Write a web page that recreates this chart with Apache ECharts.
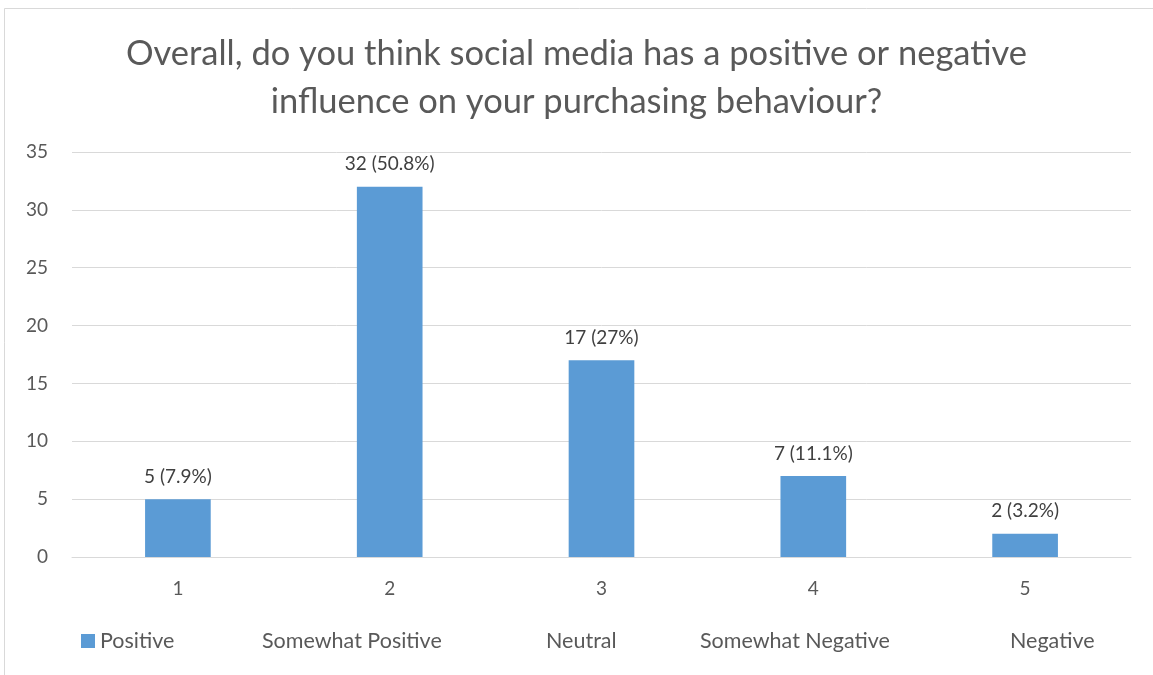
<!DOCTYPE html>
<html>
<head>
<meta charset="utf-8">
<script src="https://cdn.jsdelivr.net/npm/echarts@6/dist/echarts.min.js"></script>
<style>html,body{margin:0;padding:0;background:#fff}#c{width:1153px;height:675px}</style>
</head>
<body>
<div id="c"></div>
<script>
const titleText = 'Overall, do you think social media has a positive or negative\ninfluence on your purchasing behaviour?';
const categories = ['1', '2', '3', '4', '5'];
const values = [5, 32, 17, 7, 2];
const percents = ['7.9%', '50.8%', '27%', '11.1%', '3.2%'];
const seriesName = 'Positive';
const extraLegendTexts = ['Somewhat Positive', 'Neutral', 'Somewhat Negative', 'Negative'];
const extraLegendX = [262, 546, 700, 1010];
const yTicks = {min: 0, max: 35, interval: 5};

const FONT = 'Lato';
const chart = echarts.init(document.getElementById('c'), null, {renderer: 'canvas'});
chart.setOption({
  animation: false,
  backgroundColor: '#fff',
  title: {
    text: titleText,
    left: 'center',
    top: 25,
    textStyle: {fontFamily: FONT, fontSize: 34.5, fontWeight: 'normal', color: '#595959', lineHeight: 48}
  },
  legend: {
    data: [seriesName],
    left: 81,
    top: 630,
    padding: 0,
    itemWidth: 14,
    itemHeight: 14,
    icon: 'rect',
    textStyle: {fontFamily: FONT, fontSize: 21.5, color: '#595959', lineHeight: 22}
  },
  graphic: [
    {type: 'rect', shape: {x: 4.5, y: 8.5, width: 1300, height: 800}, style: {fill: 'none', stroke: '#d9d9d9', lineWidth: 1}, silent: true, z: -1}
  ].concat(extraLegendTexts.map((t, i) => ({
    type: 'text', x: extraLegendX[i], y: 641,
    style: {text: t, fontFamily: FONT, fontSize: 21.5, fill: '#595959', verticalAlign: 'middle'}
  }))),
  grid: {left: 72, right: 22, top: 152, bottom: 118},
  xAxis: {
    type: 'category',
    data: categories,
    axisLine: {lineStyle: {color: '#d9d9d9'}},
    axisTick: {show: false},
    axisLabel: {fontFamily: FONT, fontSize: 19, color: '#595959', margin: 22}
  },
  yAxis: {
    type: 'value',
    min: yTicks.min, max: yTicks.max, interval: yTicks.interval,
    axisLine: {show: false},
    axisTick: {show: false},
    splitLine: {lineStyle: {color: '#d9d9d9', width: 1}},
    axisLabel: {fontFamily: FONT, fontSize: 19, color: '#595959', margin: 24}
  },
  series: [{
    name: seriesName,
    type: 'bar',
    data: values,
    barWidth: '31%',
    itemStyle: {color: '#5b9bd5'},
    label: {
      show: true,
      position: 'top',
      distance: 13,
      fontFamily: FONT, fontSize: 19, color: '#404040',
      formatter: p => p.value + ' (' + percents[p.dataIndex] + ')'
    }
  }]
});
</script>
</body>
</html>
